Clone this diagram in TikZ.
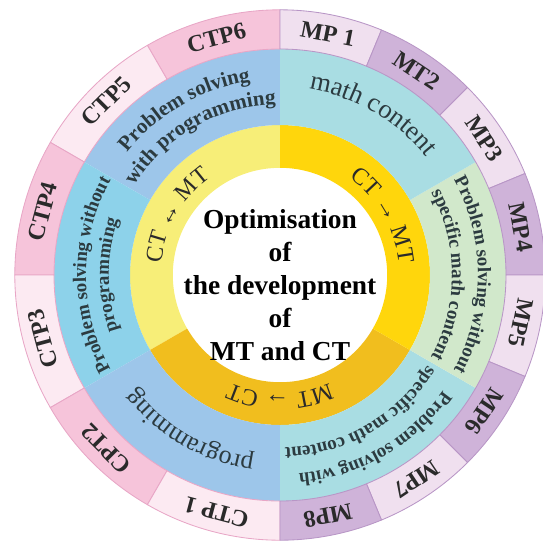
\documentclass[tikz,border=0pt]{standalone}
\usepackage{fontspec}
\setmainfont{Liberation Serif}
\usetikzlibrary{decorations.text}

\definecolor{ctdark}{HTML}{F6C4DA}
\definecolor{ctlight}{HTML}{FCEAF2}
\definecolor{ctline}{HTML}{E8A6C6}
\definecolor{mpdark}{HTML}{CFB3D9}
\definecolor{mplight}{HTML}{F0E0EF}
\definecolor{mpline}{HTML}{B896C6}
\definecolor{progblue}{HTML}{9DC6EA}
\definecolor{skyblue}{HTML}{8DD2EA}
\definecolor{mathcyan}{HTML}{A9DDE3}
\definecolor{greenish}{HTML}{D1E8CB}
\definecolor{ylight}{HTML}{F7EE78}
\definecolor{ygold}{HTML}{FFD60C}
\definecolor{yorange}{HTML}{F1BE1E}
\definecolor{ink}{HTML}{2A2A2A}
\definecolor{slate}{HTML}{2C3B40}

\begin{document}
\begin{tikzpicture}[
    line join=round,
    every node/.style={
      font=\fontsize{17}{20}\selectfont\bfseries,
      text=ink,
      inner sep=1pt
    },
    arctext/.style={decorate, decoration={text along path, text align=center, text={#1}}}
]
\useasboundingbox (-7,-6.65) rectangle (6.575,6.875);

% yellow ring
\foreach \a/\c in {90/ylight, 210/yorange, 330/ygold} {
  \fill[\c] (\a:2.68) arc[start angle=\a, end angle=\a+120, radius=2.68]
    -- ({\a+120}:3.75) arc[start angle=\a+120, end angle=\a, radius=3.75] -- cycle;
}

% middle ring
\foreach \a/\c in {90/progblue, 150/skyblue, 210/progblue, 270/mathcyan, 330/greenish, 30/mathcyan} {
  \fill[\c] (\a:3.75) arc[start angle=\a, end angle=\a+60, radius=3.75]
    -- ({\a+60}:5.65) arc[start angle=\a+60, end angle=\a, radius=5.65] -- cycle;
}

% outer ring, CT side
\foreach \a/\t/\c [count=\k] in {90/CTP6/ctdark, 120/CTP5/ctlight, 150/CTP4/ctdark,
                                 180/CTP3/ctlight, 210/CPT2/ctdark, 240/CTP 1/ctlight} {
  \filldraw[fill=\c, draw=ctline, line width=0.6pt]
    (\a:5.65) arc[start angle=\a, end angle=\a+30, radius=5.65]
    -- ({\a+30}:6.63) arc[start angle=\a+30, end angle=\a, radius=6.63] -- cycle;
  \node (ctp\k) at ({\a+15}:6.14) [rotate=\a-75] {\t};
}

% outer ring, MP side
\foreach \a/\t/\c [count=\k] in {67.5/MP 1/mplight, 45/MT2/mpdark, 22.5/MP3/mplight, 0/MP4/mpdark,
                                 -22.5/MP5/mplight, -45/MP6/mpdark, -67.5/MP7/mplight, -90/MP8/mpdark} {
  \filldraw[fill=\c, draw=mpline, line width=0.6pt]
    (\a:5.65) arc[start angle=\a, end angle=\a+22.5, radius=5.65]
    -- ({\a+22.5}:6.63) arc[start angle=\a+22.5, end angle=\a, radius=6.63] -- cycle;
  \node (mp\k) at ({\a+11.25}:6.14) [rotate=\a-78.75] {\t};
}

% texts in the middle ring
\path[arctext={|\fontsize{15}{18}\selectfont\bfseries\color{slate}|Problem solving}]
  (160:4.9) arc[start angle=160, end angle=80, radius=4.9];
\path[arctext={|\fontsize{15}{18}\selectfont\bfseries\color{slate}|with programming}]
  (160:4.27) arc[start angle=160, end angle=80, radius=4.27];
\path[arctext={|\fontsize{19}{22}\selectfont\color{slate}|math content}]
  (100:4.7) arc[start angle=100, end angle=20, radius=4.7];
\path[arctext={|\fontsize{13.5}{16}\selectfont\bfseries\color{slate}|Problem solving without}]
  (40:4.95) arc[start angle=40, end angle=-40, radius=4.95];
\path[arctext={|\fontsize{13.5}{16}\selectfont\bfseries\color{slate}|specific math content}]
  (40:4.3) arc[start angle=40, end angle=-40, radius=4.3];
\path[arctext={|\fontsize{13.5}{16}\selectfont\bfseries\color{slate}|Problem solving with}]
  (340:5.0) arc[start angle=340, end angle=260, radius=5.0];
\path[arctext={|\fontsize{13.5}{16}\selectfont\bfseries\color{slate}|specific math content}]
  (340:4.33) arc[start angle=340, end angle=260, radius=4.33];
\path[arctext={|\fontsize{18.5}{22}\selectfont\color{slate}|programming}]
  (280:4.6) arc[start angle=280, end angle=200, radius=4.6];
\path[arctext={|\fontsize{13.5}{16}\selectfont\bfseries\color{slate}|Problem solving without}]
  (220:4.85) arc[start angle=220, end angle=140, radius=4.85];
\path[arctext={|\fontsize{13.5}{16}\selectfont\bfseries\color{slate}|programming}]
  (220:4.28) arc[start angle=220, end angle=140, radius=4.28];

% arrows in the yellow ring
\path[arctext={|\fontsize{17}{20}\selectfont\color{ink}|CT ↔ MT}]
  (200:2.98) arc[start angle=200, end angle=100, radius=2.98];
\path[arctext={|\fontsize{17}{20}\selectfont\color{ink}|CT → MT}]
  (80:2.98) arc[start angle=80, end angle=-20, radius=2.98];
\path[arctext={|\fontsize{17}{20}\selectfont\color{ink}|MT → CT}]
  (-40:2.98) arc[start angle=-40, end angle=-140, radius=2.98];

\node (title) at (0,-0.25) [align=center, font=\fontsize{19.5}{23.5}\selectfont\bfseries, text=black]
  {Optimisation\\of\\the development\\of\\MT and CT};
\end{tikzpicture}
\end{document}
